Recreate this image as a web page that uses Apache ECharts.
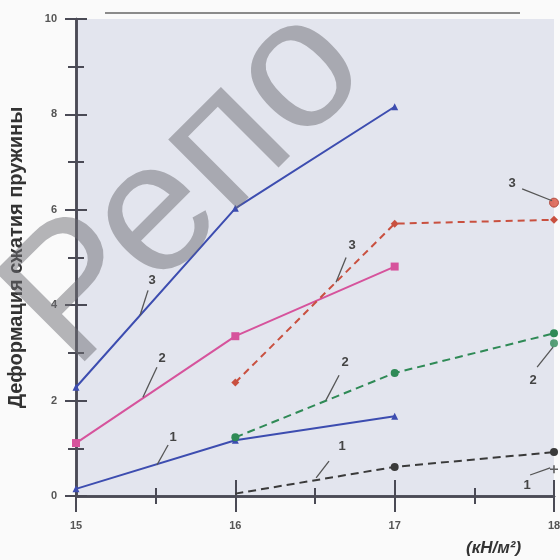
<!DOCTYPE html>
<html><head><meta charset="utf-8">
<script src="https://cdn.jsdelivr.net/npm/echarts@6/dist/echarts.min.js"></script>
<style>html,body{margin:0;padding:0;background:#fafafa}#c{width:560px;height:560px}</style>
</head><body><div id="c"></div>
<script>
// ---- data ----
const xSolid = [15, 16, 17];
const xDashed = [16, 17, 18];
const blue3 = [2.28, 6.03, 8.16];
const pink2 = [1.11, 3.35, 4.81];
const blue1 = [0.15, 1.17, 1.67];
const red3 = [2.38, 5.71, 5.79];
const green2 = [1.23, 2.58, 3.41];
const black1 = [0.05, 0.61, 0.92];
const extraX = [18];
const extraRed = [6.15];
const extraGreen = [3.2];
const extraBlack = [0.56];
const xTickLabels = [15, 16, 17, 18];
const yTickLabels = [0, 2, 4, 6, 8, 10];
const yTitle = 'Деформация сжатия пружины';
const xUnit = '(кН/м²)';
// annotation labels: text, text position, leader start, leader end (data coords)
const annText = ['3', '2', '1', '3', '2', '1', '3', '2', '1'];
const annPos = [[15.477,4.52],[15.54,2.89],[15.609,1.23],[16.733,5.25],[16.689,2.80],[16.67,1.03],[17.737,6.55],[17.869,2.43],[17.831,0.23]];
const annFrom = [[15.452,4.31],[15.508,2.70],[15.578,1.07],[16.695,5.0],[16.651,2.53],[16.588,0.73],[17.80,6.44],[17.894,2.70],[17.85,0.44]];
const annTo = [[15.402,3.79],[15.42,2.07],[15.508,0.65],[16.632,4.48],[16.569,2.01],[16.507,0.38],[17.988,6.19],[17.994,3.12],[17.976,0.59]];

const zip = (xs, ys) => xs.map((x, i) => [x, ys[i]]);
const chart = echarts.init(document.getElementById('c'), null, {renderer: 'canvas'});
const axisColor = '#4a4a55';
const lblStyle = {color: '#555', fontWeight: 'bold', fontSize: 11, fontFamily: 'Liberation Sans, Arial'};

const baseX = (inside, show) => ({
  type: 'value', min: 15, max: 18, interval: 1, position: 'bottom',
  axisLine: {show: true, onZero: false, lineStyle: {color: axisColor, width: 2.5}},
  axisTick: {show: true, inside: inside, length: 16, lineStyle: {color: axisColor, width: 2}},
  minorTick: {show: true, splitNumber: 2, length: 8, lineStyle: {color: axisColor, width: 2}},
  axisLabel: Object.assign({show: show, margin: 24}, lblStyle),
  splitLine: {show: false}
});
const baseY = (inside, show) => ({
  type: 'value', min: 0, max: 10, interval: 2, position: 'left',
  axisLine: {show: true, onZero: false, lineStyle: {color: axisColor, width: 2.5}},
  axisTick: {show: true, inside: inside, length: 11, lineStyle: {color: axisColor, width: 2}},
  minorTick: {show: true, splitNumber: 2, length: 8, lineStyle: {color: axisColor, width: 2}},
  axisLabel: Object.assign({show: show, margin: 19}, lblStyle),
  splitLine: {show: false}
});
const yMain = baseY(false, true);
yMain.name = yTitle;
yMain.nameLocation = 'middle';
yMain.nameGap = 50;
yMain.nameRotate = 90;
yMain.nameTextStyle = {color: '#333', fontWeight: 'bold', fontSize: 20, fontFamily: 'Liberation Sans, Arial'};

const blue = '#3d4db0', pink = '#d6539c', red = '#c9503f', green = '#2f8a56', black = '#3a3a3a';

chart.setOption({
  backgroundColor: '#fafafa',
  animation: false,
  grid: {left: 76, right: 6, top: 19, bottom: 64, show: true, backgroundColor: '#e3e5ee', borderWidth: 0, containLabel: false, outerBoundsMode: 'none'},
  xAxis: [baseX(false, true), baseX(true, false)],
  yAxis: [yMain, baseY(true, false)],
  series: [
    {type: 'line', data: zip(xSolid, blue3), lineStyle: {color: blue, width: 2}, itemStyle: {color: blue}, symbol: 'triangle', symbolSize: 7},
    {type: 'line', data: zip(xSolid, pink2), lineStyle: {color: pink, width: 2}, itemStyle: {color: pink}, symbol: 'rect', symbolSize: 8},
    {type: 'line', data: zip(xSolid, blue1), lineStyle: {color: blue, width: 2}, itemStyle: {color: blue}, symbol: 'triangle', symbolSize: 7},
    {type: 'line', data: zip(xDashed, red3), lineStyle: {color: red, width: 2, type: [7, 5]}, itemStyle: {color: red}, symbol: 'diamond', symbolSize: 8},
    {type: 'line', data: zip(xDashed, green2), lineStyle: {color: green, width: 2, type: [8, 5]}, itemStyle: {color: green}, symbol: 'circle', symbolSize: 8},
    {type: 'line', data: zip(xDashed, black1).map((d, i) => i === 0 ? {value: d, symbolSize: 0} : d), lineStyle: {color: black, width: 2, type: [8, 5]}, itemStyle: {color: black}, symbol: 'circle', symbolSize: 8},
    {type: 'scatter', data: zip(extraX, extraRed), itemStyle: {color: '#d9533e', borderColor: '#a83a2c', borderWidth: 1}, symbol: 'circle', symbolSize: 9},
    {type: 'scatter', data: zip(extraX, extraGreen), itemStyle: {color: green}, symbol: 'circle', symbolSize: 8},
    {type: 'scatter', data: zip(extraX, extraBlack), itemStyle: {color: black}, symbol: 'path://M4,0H6V4H10V6H6V10H4V6H0V4H4Z', symbolSize: 8}
  ]
});

const px = p => chart.convertToPixel({xAxisIndex: 0, yAxisIndex: 0}, p);
const g = [];
annText.forEach((t, i) => {
  const a = px(annFrom[i]), b = px(annTo[i]), c = px(annPos[i]);
  g.push({type: 'line', shape: {x1: a[0], y1: a[1], x2: b[0], y2: b[1]}, style: {stroke: '#555', lineWidth: 1.3}, z: 20});
  g.push({type: 'text', x: c[0], y: c[1], style: {text: t, fill: '#444', font: 'bold 13px Liberation Sans, Arial', textAlign: 'center', textVerticalAlign: 'middle'}, z: 20});
});
// top rule line
g.push({type: 'line', shape: {x1: 105, y1: 13, x2: 520, y2: 13}, style: {stroke: '#666', lineWidth: 1.5}, z: 20});
// unit label
g.push({type: 'text', x: 466, y: 548, style: {text: xUnit, fill: '#333', font: 'italic bold 17px Liberation Sans, Arial', textVerticalAlign: 'middle'}, z: 20});
// watermark
g.push({type: 'text', x: 38, y: 336, rotation: Math.PI / 4, style: {text: 'Репо', fill: 'rgba(110,110,115,0.5)', font: '185px Liberation Sans', textVerticalAlign: 'middle'}, z: 30});
chart.setOption({graphic: g});
</script>
</body></html>
